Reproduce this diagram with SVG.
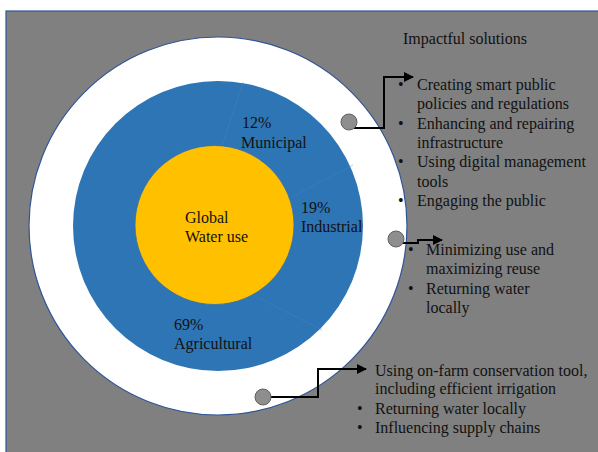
<svg xmlns="http://www.w3.org/2000/svg" width="598" height="452" viewBox="0 0 598 452">
<defs>
<style>
text{font-family:"Liberation Serif","Times New Roman",serif;font-size:16px;fill:#111}
.dot{fill:#8e8e8e;stroke:#606060;stroke-width:1}
.conn{fill:none;stroke:#000;stroke-width:2}
.div{stroke:#4a86c4;stroke-width:1;opacity:0.4}
</style>
<marker id="arr" viewBox="0 0 10 10" refX="9" refY="5" markerWidth="5" markerHeight="5" orient="auto" markerUnits="strokeWidth">
<path d="M0,0 L10,5 L0,10 z" fill="#000"/>
</marker>
</defs>
<rect x="0" y="0" width="598" height="452" fill="#fff"/>
<rect id="background" x="6" y="11" width="600" height="450" fill="#808080" stroke="#2F5597" stroke-width="1.2"/>
<g id="outer-ring">
<circle cx="218" cy="226" r="189" fill="#fff" stroke="#2F5597" stroke-width="1.2"/>
</g>
<g id="blue-ring">
<circle cx="218" cy="226" r="145" fill="#2E75B6"/>
<line class="div" x1="222" y1="146" x2="243" y2="82"/>
<line class="div" x1="292" y1="197" x2="353" y2="165"/>
<line class="div" x1="257" y1="297" x2="322" y2="330"/>
</g>
<g id="center">
<circle cx="214.5" cy="225" r="79.5" fill="#FFC000" stroke="#2F6FAE" stroke-width="0.8"/>
<text x="185" y="223">Global</text>
<text x="185" y="242">Water use</text>
</g>
<g id="municipal">
<text x="242" y="128">12%</text>
<text x="241" y="148">Municipal</text>
</g>
<g id="industrial">
<text x="301" y="213">19%</text>
<text x="301" y="232">Industrial</text>
</g>
<g id="agricultural">
<text x="174" y="330">69%</text>
<text x="174" y="349">Agricultural</text>
</g>
<g id="connectors">
<path class="conn" d="M354,128 H384 V77 H413" marker-end="url(#arr)"/>
<path class="conn" d="M402,243 H418 V240 H442" marker-end="url(#arr)"/>
<path class="conn" d="M268,397 H318 V369 H366" marker-end="url(#arr)"/>
</g>
<g id="markers">
<circle class="dot" cx="349" cy="122" r="8"/>
<circle class="dot" cx="396" cy="239" r="8"/>
<circle class="dot" cx="263" cy="397" r="8"/>
</g>
<g id="title">
<text x="403" y="44">Impactful solutions</text>
</g>
<g id="municipal-solutions">
<text x="398" y="90">•</text><text x="417" y="90">Creating smart public</text>
<text x="417" y="109">policies and regulations</text>
<text x="398" y="129">•</text><text x="417" y="129">Enhancing and repairing</text>
<text x="417" y="148">infrastructure</text>
<text x="398" y="167">•</text><text x="417" y="167">Using digital management</text>
<text x="417" y="187">tools</text>
<text x="398" y="206">•</text><text x="417" y="206">Engaging the public</text>
</g>
<g id="industrial-solutions">
<text x="408" y="255">•</text><text x="426" y="255">Minimizing use and</text>
<text x="426" y="274">maximizing reuse</text>
<text x="408" y="294">•</text><text x="426" y="294">Returning water</text>
<text x="426" y="313">locally</text>
</g>
<g id="agricultural-solutions">
<text x="375" y="376">Using on-farm conservation tool,</text>
<text x="375" y="394">including efficient irrigation</text>
<text x="357" y="414">•</text><text x="375" y="414">Returning water locally</text>
<text x="357" y="433">•</text><text x="375" y="433">Influencing supply chains</text>
</g>
</svg>
